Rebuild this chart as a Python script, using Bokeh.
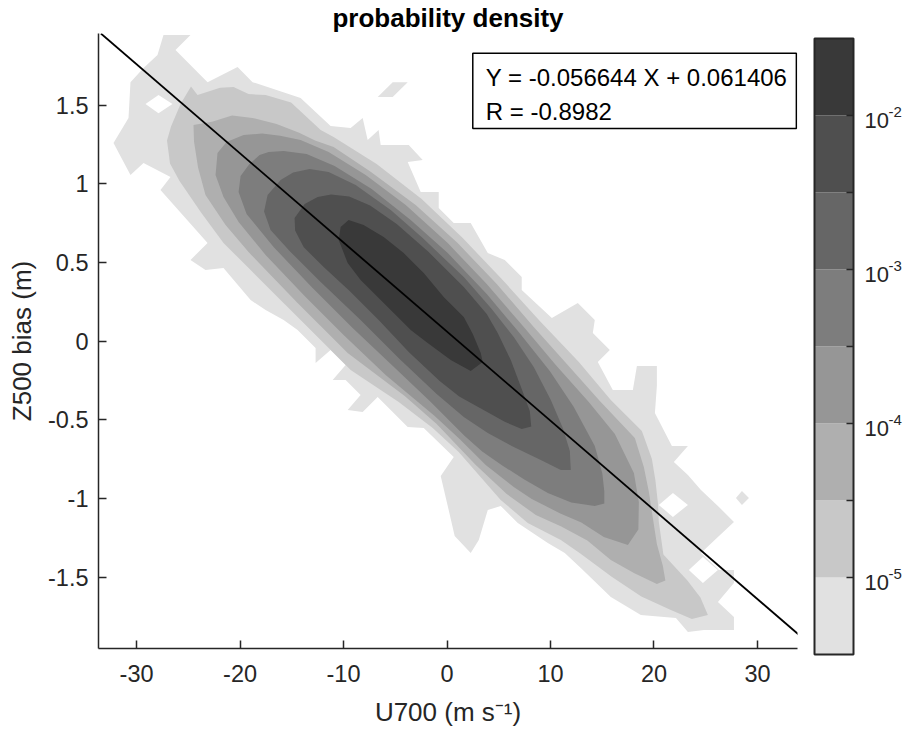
from bokeh.plotting import figure
from bokeh.models import Label, Slope, FixedTicker, ColumnDataSource, Range1d
from bokeh.layouts import row
from bokeh.embed import file_html
from bokeh.resources import INLINE
from bokeh.core.properties import value

# ---------------- data ----------------
TITLE = "probability density"
Y_LABEL = "Z500 bias (m)"
X_LABEL = "U700 (m s\u207b\u00b9)"
FIT_LINES = ["Y = -0.056644 X + 0.061406", "R = -0.8982"]
FIT_SLOPE = -0.056644
FIT_INTERCEPT = 0.061406

x_ticks = [-30, -20, -10, 0, 10, 20, 30]
x_tick_labels = ["-30", "-20", "-10", "0", "10", "20", "30"]
y_ticks = [-1.5, -1, -0.5, 0, 0.5, 1, 1.5]
y_tick_labels = ["-1.5", "-1", "-0.5", "0", "0.5", "1", "1.5"]

# log10 of probability density at the filled-contour level boundaries
level_exp = [-5.5, -5, -4.5, -4, -3.5, -3, -2.5, -2, -1.5]
level_colors = ["#e1e1e1", "#c8c8c8", "#afafaf", "#969696",
                "#7d7d7d", "#666666", "#4f4f4f", "#393939"]
cbar_label_exp = [-5, -4, -3, -2]

# filled region above 10^-5.5 (outermost, jagged)
L1_x = [-30.59, -29.33, -27.98, -27.40, -24.79, -26.24, -23.14, -20.24, -18.79, -14.15,
        -11.25, -9.31, -8.15, -7.67, -6.61, -6.41, -3.70, -2.35, -3.80, -2.54,
        -0.80, -0.80, 0.65, 2.29, 3.94, 5.58, 7.22, 7.22, 10.13, 12.64,
        14.28, 14.09, 15.73, 14.57, 16.02, 17.96, 18.35, 20.28, 20.28, 20.09,
        21.73, 23.28, 21.92, 23.28, 24.54, 26.28, 27.73, 26.18, 24.54, 26.28,
        27.73, 27.73, 26.18, 27.73, 27.73, 24.83, 23.28, 22.12, 18.73, 15.83,
        12.93, 11.38, 9.74, 6.84, 5.19, 3.94, 3.07, 2.29, 0.74, 0.07,
        -0.61, 0.65, -2.25, -3.80, -6.70, -8.15, -9.60, -8.35, -9.80, -11.05,
        -9.80, -11.25, -12.70, -12.70, -14.44, -15.79, -17.53, -18.98, -21.60, -23.34,
        -24.79, -23.14, -27.69, -26.72, -29.33, -30.59, -32.23, -30.78]
L1_y = [1.647, 1.736, 1.819, 1.946, 1.946, 1.851, 1.647, 1.743, 1.647, 1.546,
        1.368, 1.355, 1.419, 1.279, 1.342, 1.247, 1.247, 1.152, 1.139, 0.949,
        0.949, 0.847, 0.752, 0.752, 0.561, 0.517, 0.408, 0.326, 0.148, 0.243,
        0.135, 0.053, -0.055, -0.132, -0.309, -0.309, -0.157, -0.157, -0.284, -0.455,
        -0.665, -0.665, -0.767, -0.849, -0.945, -1.053, -1.148, -1.243, -1.345, -1.453,
        -1.453, -1.536, -1.656, -1.752, -1.834, -1.834, -1.847, -1.758, -1.739, -1.624,
        -1.440, -1.345, -1.281, -1.154, -1.046, -1.072, -1.262, -1.345, -1.237, -1.046,
        -0.856, -0.735, -0.551, -0.544, -0.354, -0.449, -0.436, -0.341, -0.246, -0.246,
        -0.151, -0.055, -0.138, -0.043, 0.072, 0.135, 0.199, 0.262, 0.466, 0.453,
        0.517, 0.625, 0.961, 1.044, 1.133, 1.057, 1.260, 1.419]
# isolated specks of the outermost level
B1_x = [-6.70, -5.25, -3.80, -5.25]
B1_y = [1.552, 1.647, 1.647, 1.552]
B2_x = [27.92, 28.50, 29.18, 28.50]
B2_y = [-0.996, -0.951, -0.996, -1.040]
# empty cells inside the outermost level
H1_x = [-29.14, -27.88, -26.53, -27.88]
H1_y = [1.508, 1.565, 1.508, 1.450]
H2_x = [20.47, 21.83, 23.28, 21.83]
H2_y = [-1.040, -0.964, -1.040, -1.116]
H3_x = [23.37, 24.73, 26.18, 24.73]
H3_y = [-1.453, -1.370, -1.453, -1.536]

L2_x = [-24.74, -24.11, -21.93, -20.63, -19.18, -17.53, -15.07, -12.21, -10.96, -6.80,
        -2.45, 1.52, 5.29, 8.97, 12.74, 15.83, 18.83, 19.80, 20.14, 20.38,
        20.47, 20.91, 23.23, 24.49, 25.21,
        23.66, 21.63, 18.78, 15.88, 12.88, 11.00, 7.80, 5.19, 1.13, -1.38,
        -4.67, -9.31, -14.15, -18.98, -21.60, -23.77, -25.85, -26.77, -27.06, -26.67, -25.75]
L2_y = [1.619, 1.565, 1.612, 1.616, 1.571, 1.565, 1.517, 1.342, 1.298, 1.126,
        0.904, 0.656, 0.396, 0.129, -0.132, -0.373, -0.570, -0.748, -0.884, -1.027,
        -1.148, -1.354, -1.520, -1.628, -1.739,
        -1.764, -1.707, -1.621, -1.494, -1.348, -1.262, -1.154, -1.008, -0.703, -0.551,
        -0.386, -0.182, 0.135, 0.453, 0.625, 0.818, 1.018, 1.130, 1.276, 1.365, 1.508]

L3_x = [-24.50, -22.71, -20.77, -18.79, -16.47, -14.29, -12.75, -10.96, -7.48, -3.03,
        1.03, 4.81, 8.38, 11.58, 14.77, 18.15, 19.02, 19.51, 19.89, 20.28,
        20.86, 21.10,
        20.28, 18.06, 15.83, 13.56, 11.04, 8.58, 5.77, 2.78, -1.00, -4.09,
        -9.60, -14.44, -19.18, -21.40, -23.34, -24.06, -24.45]
L3_y = [1.374, 1.396, 1.435, 1.419, 1.381, 1.326, 1.276, 1.234, 1.082, 0.866,
        0.624, 0.364, 0.091, -0.144, -0.379, -0.614, -0.799, -0.957, -1.123, -1.288,
        -1.428, -1.520,
        -1.542, -1.472, -1.389, -1.266, -1.177, -1.104, -0.970, -0.786, -0.525, -0.348,
        -0.074, 0.243, 0.567, 0.739, 0.929, 1.104, 1.269]

L4_x = [-21.31, -19.66, -17.87, -16.13, -14.15, -11.44, -7.86, -3.99, 0.07, 3.84,
        7.42, 10.51, 13.70, 16.22, 18.06, 18.54, 18.49,
        17.48, 15.15, 12.98, 10.95, 8.19, 6.45, 3.74, 1.32, -1.19, -5.93,
        -9.89, -13.76, -17.53, -20.14, -21.60, -22.37, -22.18]
L4_y = [1.266, 1.311, 1.320, 1.307, 1.279, 1.203, 1.057, 0.866, 0.624, 0.364,
        0.091, -0.151, -0.386, -0.589, -0.837, -1.021, -1.196,
        -1.294, -1.243, -1.151, -1.094, -1.002, -0.926, -0.786, -0.627, -0.475, -0.214,
        0.034, 0.288, 0.548, 0.758, 0.917, 1.057, 1.196]

L5_x = [-19.13, -18.11, -17.24, -15.79, -13.57, -10.86, -7.28, -3.51, 0.07, 3.84,
        6.93, 9.93, 12.25, 14.28, 15.01, 15.20, 15.20,
        14.28, 12.01, 9.74, 7.47, 5.34, 3.40, 1.71, -1.67, -5.64, -9.12,
        -12.99, -16.76, -19.37, -20.14, -19.95]
L5_y = [1.123, 1.184, 1.203, 1.209, 1.190, 1.114, 0.968, 0.771, 0.561, 0.300,
        0.059, -0.189, -0.417, -0.665, -0.840, -0.954, -1.030,
        -1.046, -1.024, -0.964, -0.878, -0.789, -0.700, -0.602, -0.379, -0.132, 0.084,
        0.339, 0.599, 0.809, 0.949, 1.050]

L6_x = [-17.34, -16.08, -14.87, -13.28, -11.44, -8.83, -5.44, -2.35, 1.62, 4.32,
        6.45, 8.38, 10.03, 11.19, 11.87, 11.96,
        11.00, 9.06, 6.45, 3.94, 1.62, -1.00, -4.48, -8.35, -12.31, -15.21,
        -17.05, -17.68]
L6_y = [0.929, 1.025, 1.072, 1.095, 1.076, 0.993, 0.834, 0.656, 0.408, 0.205,
        0.027, -0.163, -0.373, -0.551, -0.697, -0.818,
        -0.818, -0.754, -0.672, -0.583, -0.481, -0.335, -0.119, 0.135, 0.383, 0.574,
        0.707, 0.825]

L7_x = [-14.73, -13.76, -12.50, -11.20, -9.46, -7.43, -4.86, -1.77, 1.62, 3.84,
        4.90, 6.16, 7.22, 8.00, 8.14,
        7.22, 5.53, 3.36, 1.18, -0.71, -3.70, -6.51, -9.41, -11.92, -13.86, -14.68]
L7_y = [0.783, 0.872, 0.917, 0.933, 0.920, 0.863, 0.745, 0.567, 0.345, 0.173,
        0.053, -0.119, -0.303, -0.443, -0.541,
        -0.557, -0.510, -0.430, -0.351, -0.252, -0.068, 0.129, 0.320, 0.472, 0.599, 0.704]

L8_x = [-10.47, -10.28, -9.51, -8.06, -6.12, -4.19, -2.25, -0.32, 1.62, 2.49,
        3.26, 3.45, 2.29, 0.36, -1.87, -3.51, -5.15, -6.70, -8.35, -9.60, -10.09]
L8_y = [0.644, 0.726, 0.771, 0.739, 0.663, 0.561, 0.434, 0.281, 0.154, 0.046,
        -0.074, -0.132, -0.189, -0.119, -0.011, 0.072, 0.180, 0.281, 0.389, 0.497, 0.580]

# ---------------- styling ----------------
FONT = "Liberation Sans"
INK = "#262626"
X_RANGE = (-33.68, 33.87)
Y_RANGE = (-1.952, 1.956)

p = figure(x_range=Range1d(*X_RANGE), y_range=Range1d(*Y_RANGE),
           frame_width=699, frame_height=615,
           min_border_left=98, min_border_right=11, min_border_top=33,
           min_border_bottom=40,
           toolbar_location=None, output_backend="svg", title=TITLE)
p.title.align = "center"
p.title.text_font = FONT
p.title.text_font_size = "26px"
p.title.text_font_style = "bold"
p.title.text_color = "black"
p.title.standoff = 1
p.outline_line_color = None
p.grid.visible = False
p.background_fill_color = "white"
p.border_fill_color = "white"
p.align = "start"

outer = ColumnDataSource(dict(xs=[L1_x, B1_x, B2_x], ys=[L1_y, B1_y, B2_y],
                              fill=[level_colors[0]] * 3))
p.patches("xs", "ys", source=outer, fill_color="fill", line_color=None)
holes = ColumnDataSource(dict(xs=[H1_x, H2_x, H3_x], ys=[H1_y, H2_y, H3_y]))
p.patches("xs", "ys", source=holes, fill_color="white", line_color=None)
inner = ColumnDataSource(dict(
    xs=[L2_x, L3_x, L4_x, L5_x, L6_x, L7_x, L8_x],
    ys=[L2_y, L3_y, L4_y, L5_y, L6_y, L7_y, L8_y],
    fill=level_colors[1:]))
p.patches("xs", "ys", source=inner, fill_color="fill", line_color=None)

p.add_layout(Slope(gradient=FIT_SLOPE, y_intercept=FIT_INTERCEPT,
                   line_color="black", line_width=1.8))

for ax in (p.xaxis[0], p.yaxis[0]):
    ax.axis_line_color = INK
    ax.axis_line_width = 1.5
    ax.major_tick_line_color = INK
    ax.major_tick_line_width = 1.5
    ax.major_tick_in = 8
    ax.major_tick_out = 0
    ax.minor_tick_line_color = None
    ax.major_label_text_font = FONT
    ax.major_label_text_font_size = "23.5px"
    ax.major_label_text_color = INK
    ax.axis_label_text_font = FONT
    ax.axis_label_text_font_size = "26px"
    ax.axis_label_text_font_style = "normal"
    ax.axis_label_text_color = INK

p.xaxis.ticker = FixedTicker(ticks=x_ticks)
p.xaxis.major_label_overrides = dict(zip(x_ticks, x_tick_labels))
p.xaxis.major_label_standoff = 16
p.xaxis.axis_label = X_LABEL
p.xaxis.axis_label_standoff = 12
p.yaxis.ticker = FixedTicker(ticks=y_ticks)
p.yaxis.major_label_overrides = dict(zip(y_ticks, y_tick_labels))
p.yaxis.major_label_standoff = 10
p.yaxis.axis_label = Y_LABEL
p.yaxis.axis_label_standoff = 8

# regression text box (inside the frame)
p.add_layout(Label(x=2.49, y=1.831, text="\n".join(FIT_LINES), text_align="left",
                   text_baseline="top", text_font=FONT, text_font_size="24px",
                   text_line_height=1.27, text_color="black",
                   border_line_color="black", border_line_width=1.5,
                   background_fill_color="white",
                   padding=dict(left=13, right=9, top=11, bottom=3)))

# ---------------- colour bar ----------------
span = level_exp[-1] - level_exp[0]
pad = span / 616 * 5
cb = figure(x_range=Range1d(-0.154, 2.359),
            y_range=Range1d(level_exp[0] - pad, level_exp[-1] + pad),
            frame_width=98, frame_height=626,
            min_border_left=0, min_border_right=0, min_border_top=28, min_border_bottom=40,
            toolbar_location=None, output_backend="svg", title=None,
            x_axis_location=None, y_axis_location=None)
cb.outline_line_color = None
cb.grid.visible = False
cb.background_fill_color = "white"
cb.border_fill_color = "white"
cb.align = "start"

cb.quad(left=0, right=1, bottom=level_exp[:-1], top=level_exp[1:],
        fill_color=level_colors, line_color=None)
inner_ticks = level_exp[1:-1]
cb.segment(x0=[0.82] * len(inner_ticks), x1=[1] * len(inner_ticks),
           y0=inner_ticks, y1=inner_ticks, line_color=INK, line_width=1.5)
cb.quad(left=0, right=1, bottom=level_exp[0], top=level_exp[-1],
        fill_color=None, line_color=INK, line_width=2)
cb.text(x=[1.28] * len(cbar_label_exp), y=cbar_label_exp, text=["10"] * len(cbar_label_exp),
        text_font=value(FONT), text_font_size="22px", text_color=INK,
        text_align="left", text_baseline="middle", y_offset=5)
cb.text(x=[1.9] * len(cbar_label_exp), y=cbar_label_exp,
        text=[str(e) for e in cbar_label_exp],
        text_font=value(FONT), text_font_size="15px", text_color=INK,
        text_align="left", text_baseline="middle", y_offset=-4)

layout = row(p, cb)
html = file_html(layout, INLINE, "probability density")
html = html.replace("<head>", "<head><style>html,body{overflow:hidden}</style>", 1)
open("out.html", "w").write(html)
